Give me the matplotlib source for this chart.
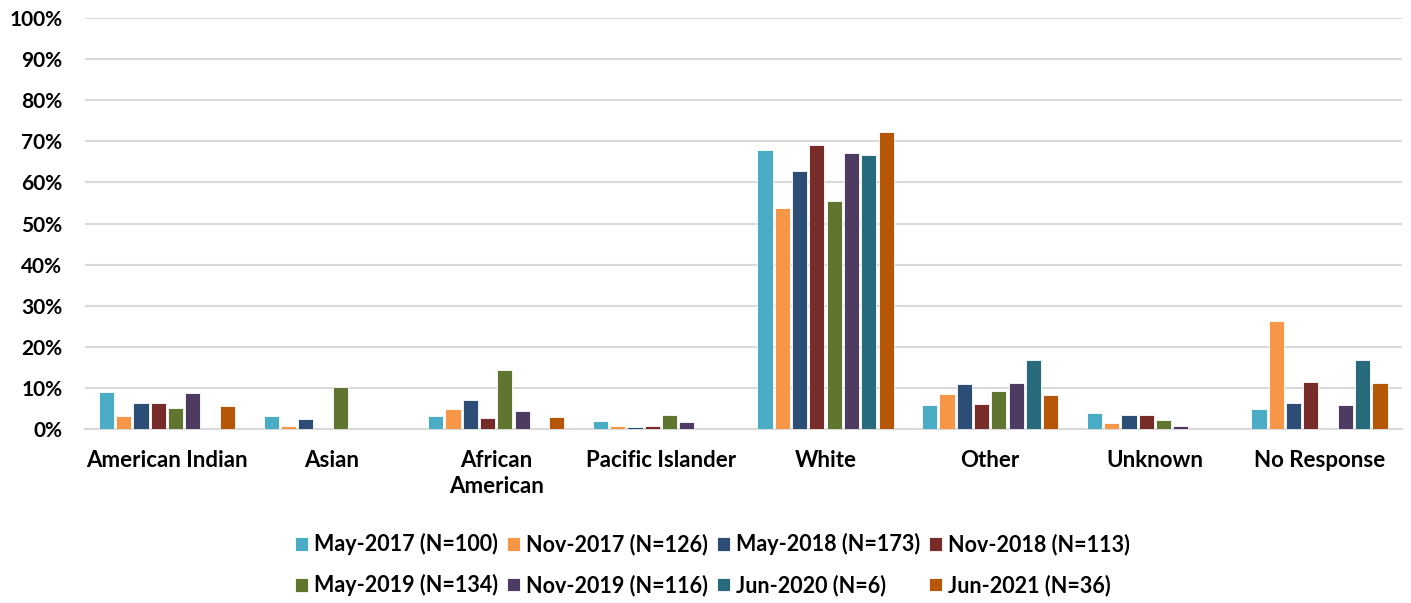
import matplotlib.pyplot as plt
import numpy as np

plt.rcParams['font.family'] = ['Lato', 'DejaVu Sans']
plt.rcParams['font.weight'] = 'bold'

# Categories and survey waves
categories = ['American Indian', 'Asian', 'African\nAmerican', 'Pacific Islander',
              'White', 'Other', 'Unknown', 'No Response']
series_names = ['May-2017 (N=100)', 'Nov-2017 (N=126)', 'May-2018 (N=173)',
                'Nov-2018 (N=113)', 'May-2019 (N=134)', 'Nov-2019 (N=116)',
                'Jun-2020 (N=6)', 'Jun-2021 (N=36)']
colors = ['#4BACC6', '#F79646', '#2C4D75', '#772C2A',
          '#5F7530', '#4D3B62', '#276A7C', '#B65708']

# Percent values per wave, in category order
may_2017 = [9.0, 3.1, 3.1, 2.0, 68.0, 5.9, 3.9, 4.9]
nov_2017 = [3.2, 0.8, 4.8, 0.7, 53.9, 8.6, 1.4, 26.2]
may_2018 = [6.4, 2.4, 7.0, 0.6, 62.9, 10.9, 3.5, 6.3]
nov_2018 = [6.3, 0.0, 2.7, 0.8, 69.0, 6.1, 3.5, 11.5]
may_2019 = [5.0, 10.1, 14.4, 3.5, 55.4, 9.3, 2.1, 0.0]
nov_2019 = [8.7, 0.0, 4.3, 1.6, 67.2, 11.2, 0.7, 5.9]
jun_2020 = [0.0, 0.0, 0.0, 0.0, 66.7, 16.7, 0.0, 16.7]
jun_2021 = [5.6, 0.0, 2.8, 0.0, 72.2, 8.3, 0.0, 11.1]

all_series = [may_2017, nov_2017, may_2018, nov_2018,
              may_2019, nov_2019, jun_2020, jun_2021]

fig = plt.figure(figsize=(14.11, 6.03), dpi=100)
ax = fig.add_axes([0.060, 0.2886, 0.9335, 0.6814])

x = np.arange(len(categories))
pitch = 0.105
handles = []
for j, (vals, name, col) in enumerate(zip(all_series, series_names, colors)):
    h = ax.bar(x + (j - 3.5) * pitch, vals, width=0.092, color=col,
               edgecolor='white', linewidth=0.6, label=name, zorder=3)
    handles.append(h)

ax.set_xlim(-0.5, len(categories) - 0.5)
ax.set_ylim(0, 100)
ax.set_yticks(np.arange(0, 101, 10))
ax.set_yticklabels([f'{v}%' for v in range(0, 101, 10)], fontsize=15, fontweight='bold')
ax.set_xticks(x)
ax.set_xticklabels(categories, fontsize=16, fontweight='bold', linespacing=1.3)
ax.tick_params(axis='y', length=0, pad=16)
ax.tick_params(axis='x', length=0, pad=15)

ax.grid(axis='y', color='#D9D9D9', linewidth=1.5, zorder=0)
for s in ['top', 'right', 'left']:
    ax.spines[s].set_visible(False)
ax.spines['bottom'].set_color('#D9D9D9')
ax.spines['bottom'].set_linewidth(1.5)

# legend filled column-wise, so reorder to read row by row
order = [0, 4, 1, 5, 2, 6, 3, 7]
fig.legend([handles[i] for i in order], [series_names[i] for i in order],
           loc='lower center', bbox_to_anchor=(0.505, -0.021), ncol=4, frameon=False,
           prop={'size': 15.5, 'weight': 'bold'}, handlelength=0.6, handleheight=0.6,
           handletextpad=0.28, columnspacing=0.42, labelspacing=0.88)

fig.savefig('out.png', dpi=100)
